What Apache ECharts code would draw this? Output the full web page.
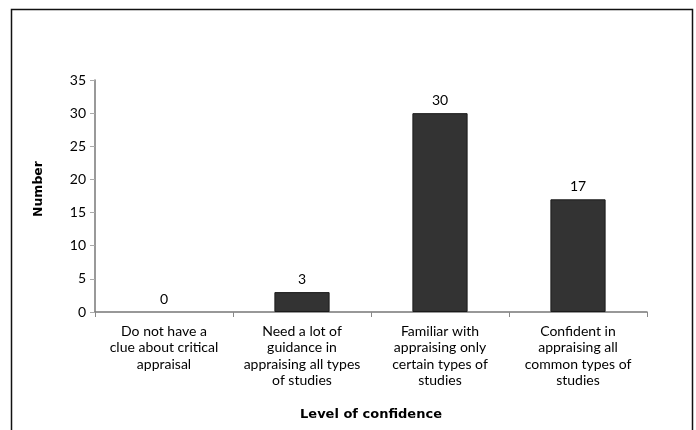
<!DOCTYPE html>
<html>
<head>
<meta charset="utf-8">
<script src="https://cdn.jsdelivr.net/npm/echarts@6/dist/echarts.min.js"></script>
<style>
  html, body { margin: 0; padding: 0; background: #fff; }
  #chart { width: 696px; height: 430px; }
</style>
</head>
<body>
<div id="chart"></div>
<script>
// Confidence levels in critical appraisal and respondent counts
const categories = [
  'Do not have a\nclue about critical\nappraisal',
  'Need a lot of\nguidance in\nappraising all types\nof studies',
  'Familiar with\nappraising only\ncertain types of\nstudies',
  'Confident in\nappraising all\ncommon types of\nstudies'
];
const counts = [0, 3, 30, 17];
const yTicks = { min: 0, max: 35, interval: 5 };

const FONT = 'Lato, "Open Sans", sans-serif';
const TITLE_FONT = '"DejaVu Sans", sans-serif';
const chart = echarts.init(document.getElementById('chart'), null, { renderer: 'canvas' });

// a zero-height bar should leave no outline on the axis
const barData = counts.map(v => v === 0 ? { value: v, itemStyle: { borderWidth: 0 } } : v);

chart.setOption({
  animation: false,
  backgroundColor: '#fff',
  graphic: [{
    type: 'rect',
    shape: { x: 11.5, y: 9.5, width: 681, height: 440 },
    style: { fill: 'none', stroke: '#111', lineWidth: 1.5 },
    silent: true
  }],
  grid: { left: 95, right: 49, top: 80, bottom: 118 },
  xAxis: {
    type: 'category',
    data: categories,
    name: 'Level of confidence',
    nameLocation: 'middle',
    nameGap: 96,
    nameTextStyle: { fontFamily: TITLE_FONT, fontWeight: 'bold', fontSize: 13, color: '#000' },
    axisLine: { lineStyle: { color: '#777', width: 1.5 } },
    axisTick: { show: true, alignWithLabel: false, length: 5, lineStyle: { color: '#888' } },
    axisLabel: { fontFamily: FONT, fontSize: 14, color: '#000', lineHeight: 16.5, margin: 11, interval: 0 }
  },
  yAxis: {
    type: 'value',
    min: yTicks.min,
    max: yTicks.max,
    interval: yTicks.interval,
    name: 'Number',
    nameLocation: 'middle',
    nameGap: 50,
    nameTextStyle: { fontFamily: TITLE_FONT, fontWeight: 'bold', fontSize: 12.5, color: '#000', padding: [0, 0, 0, 14] },
    axisLine: { show: true, lineStyle: { color: '#777', width: 1.5 } },
    axisTick: { show: true, length: 5, lineStyle: { color: '#aaa' } },
    axisLabel: { fontFamily: FONT, fontSize: 14, color: '#000', margin: 9 },
    splitLine: { show: false }
  },
  series: [{
    type: 'bar',
    data: barData,
    barWidth: '40%',
    itemStyle: { color: '#333333', borderColor: '#1a1a1a', borderWidth: 1 },
    label: {
      show: true,
      position: 'top',
      distance: 6,
      fontFamily: FONT,
      fontSize: 14,
      color: '#000'
    }
  }]
});
</script>
</body>
</html>
